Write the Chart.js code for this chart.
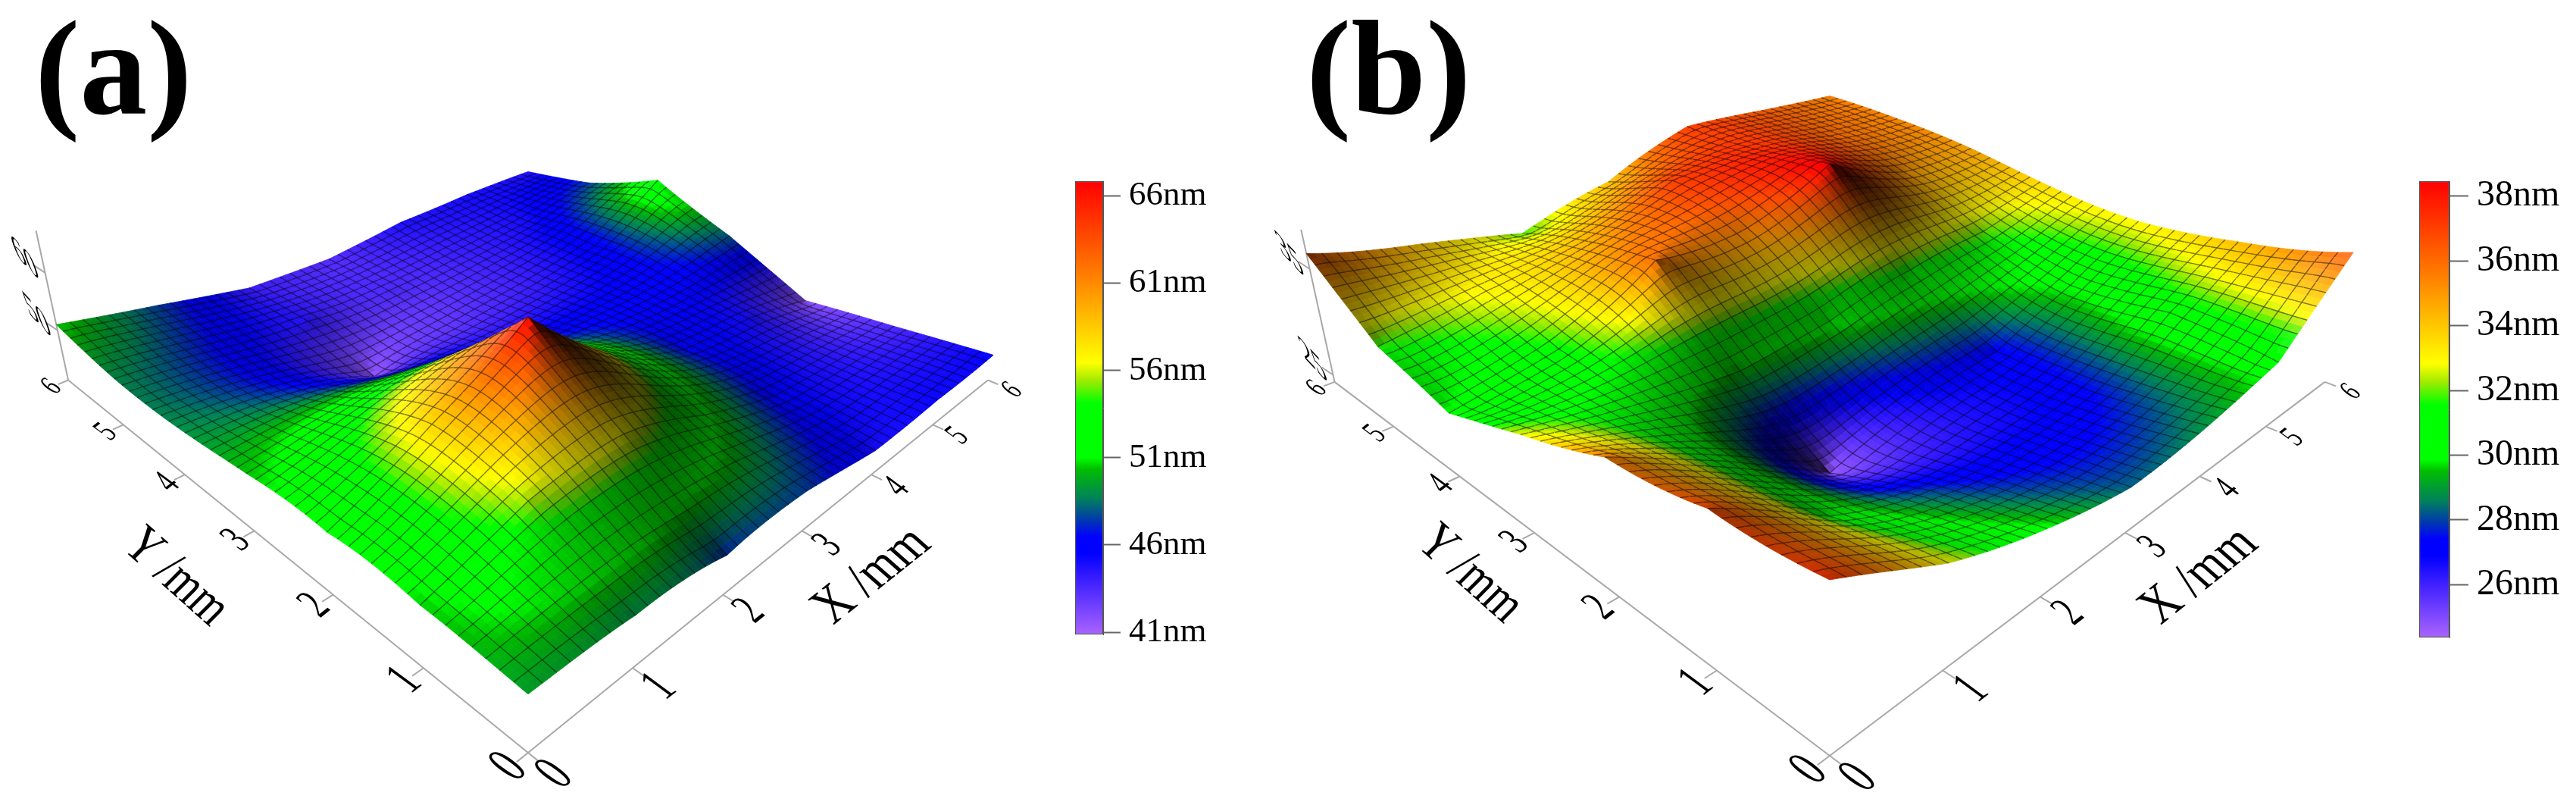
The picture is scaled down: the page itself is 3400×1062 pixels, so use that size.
<!DOCTYPE html>
<html>
<head>
<meta charset="utf-8">
<title>Thickness maps</title>
<style>
  html, body { margin: 0; padding: 0; background: #fff; }
  #wrap { position: relative; width: 3400px; height: 1062px; overflow: hidden; }
  canvas { position: absolute; }
</style>
<script src="https://cdn.jsdelivr.net/npm/chart.js@4/dist/chart.umd.js"></script>
</head>
<body>
<div id="wrap">
  <canvas id="main" width="3400" height="1062" style="left:0;top:0"></canvas>
  <canvas id="barA" width="210" height="658" style="left:1419px;top:209px"></canvas>
  <canvas id="barB" width="210" height="662" style="left:3193px;top:209px"></canvas>
</div>
<script>
// heights in nm read at each 1 mm node, rows are Y = 0..6, columns X = 0..6
const heightsA = [
  [49.6, 49.0, 47.2, 47.5, 45.0, 45.3, 45.5],
  [50.5, 55.5, 56.5, 51.0, 46.0, 44.5, 43.5],
  [50.8, 58.0, 66.5, 53.5, 46.5, 45.0, 41.5],
  [50.3, 52.5, 52.5, 47.0, 46.0, 46.0, 48.0],
  [49.0, 47.0, 41.5, 43.0, 44.0, 46.0, 53.5],
  [49.0, 46.5, 44.5, 43.5, 44.0, 45.0, 47.5],
  [51.0, 47.5, 44.0, 43.3, 44.8, 45.0, 44.6]
];
const heightsB = [
  [37.3, 32.8, 30.0, 28.3, 28.9, 30.3, 36.5],
  [36.8, 31.0, 28.0, 27.0, 27.5, 31.0, 34.2],
  [35.6, 30.5, 24.6, 26.7, 27.3, 30.0, 33.0],
  [32.7, 30.8, 29.5, 30.2, 31.5, 32.0, 33.5],
  [30.0, 31.5, 35.8, 35.5, 38.6, 35.0, 34.7],
  [31.7, 33.0, 34.3, 37.0, 37.3, 36.0, 35.3],
  [36.4, 34.0, 31.8, 34.0, 37.0, 36.2, 35.4]
];
const floorTicks = [0, 1, 2, 3, 4, 5, 6];
const zTicksA = [50, 60];
const zTicksB = [25, 35];
const barTicksA = [41, 46, 51, 56, 61, 66];
const barTicksB = [26, 28, 30, 32, 34, 36, 38];
const barRangeA = [40.87, 66.85];
const barRangeB = [24.37, 38.46];

// colour bar stops, 0 = top of bar
const paletteStops = [0, 0.21, 0.40, 0.44, 0.49, 0.61, 0.635, 0.70, 0.745, 0.785, 0.82, 0.88, 1];
const paletteColors = [
  [255, 0, 0], [255, 128, 0], [255, 255, 0], [160, 235, 0], [0, 255, 0], [0, 255, 0], [0, 190, 0],
  [0, 130, 90], [0, 60, 170], [0, 0, 255], [0, 0, 255], [60, 30, 255], [170, 100, 255]
];

const SERIF = '"Liberation Serif", "Times New Roman", serif';
const FINE = 96;      // painted patches per side
const MESH_EVERY = 2; // a mesh line every second patch

const camA = { ox: 697, oy: 993, ax: 148.8, ay: 120.5, w: 0.0785, c: 12.2, wz: -0.00368, z0: 40.85, zTop: 67,
  xTitle: [1151, 760], yTitle: [232, 762] };
const camB = { ox: 2415, oy: 997, ax: 161, ay: 121.5, w: 0.0797, c: 22.9, wz: -0.0066, z0: 24.3, zTop: 38.5,
  xTitle: [2903, 760], yTitle: [1940, 758] };

function project(cam, X, Y, z) {
  const Z = z - cam.z0;
  const S = X + Y;
  const D = 1 + cam.w * S;
  const Dz = D + cam.wz * Z;
  return { x: cam.ox + cam.ax * (X - Y) / Dz, y: (cam.oy * D - cam.ay * S - cam.c * Z) / Dz };
}

function paletteColor(range, z) {
  const f = Math.min(1, Math.max(0, (range[1] - z) / (range[1] - range[0])));
  let i = 0;
  while (i < paletteStops.length - 2 && f > paletteStops[i + 1]) i++;
  const t = (f - paletteStops[i]) / (paletteStops[i + 1] - paletteStops[i]);
  return paletteColors[i].map((c, k) => c + (paletteColors[i + 1][k] - c) * t);
}

// the surface passes exactly through the read nodes; between them it is drawn
// with a cone kernel so each node keeps its cusp like the original plot
function solveLinear(A, b) {
  const n = b.length;
  for (let i = 0; i < n; i++) {
    let piv = i;
    for (let r = i + 1; r < n; r++) if (Math.abs(A[r][i]) > Math.abs(A[piv][i])) piv = r;
    [A[i], A[piv]] = [A[piv], A[i]];
    [b[i], b[piv]] = [b[piv], b[i]];
    for (let r = i + 1; r < n; r++) {
      const f = A[r][i] / A[i][i];
      for (let c = i; c < n; c++) A[r][c] -= f * A[i][c];
      b[r] -= f * b[i];
    }
  }
  const x = new Array(n);
  for (let i = n - 1; i >= 0; i--) {
    let s = b[i];
    for (let c = i + 1; c < n; c++) s -= A[i][c] * x[c];
    x[i] = s / A[i][i];
  }
  return x;
}

function buildSurface(heights) {
  const nodes = [], vals = [];
  heights.forEach((row, iy) => row.forEach((z, ix) => { nodes.push([ix, iy]); vals.push(z); }));
  const n = nodes.length;
  const mean = vals.reduce((a, v) => a + v, 0) / n;
  const A = nodes.map(p => nodes.map(q => Math.hypot(p[0] - q[0], p[1] - q[1])));
  const w = solveLinear(A, vals.map(v => v - mean));
  const step = 6 / FINE;
  const grid = [];
  for (let ix = 0; ix <= FINE; ix++) {
    grid.push([]);
    for (let iy = 0; iy <= FINE; iy++) {
      let z = mean;
      for (let k = 0; k < n; k++) z += w[k] * Math.hypot(ix * step - nodes[k][0], iy * step - nodes[k][1]);
      grid[ix].push(z);
    }
  }
  return grid;
}

const panels = [
  { cam: camA, heights: heightsA, range: barRangeA, zTicks: zTicksA, title: '(a)', titleX: 46 },
  { cam: camB, heights: heightsB, range: barRangeB, zTicks: zTicksB, title: '(b)', titleX: 1724 }
];
panels.forEach(p => { p.grid = buildSurface(p.heights); });

function paintSurface(chart, p) {
  const ctx = chart.ctx;
  const sx = chart.scales.x, sy = chart.scales.y;
  const step = 6 / FINE;
  const span = p.range[1] - p.range[0];
  const px = [];
  for (let ix = 0; ix <= FINE; ix++) {
    px.push([]);
    for (let iy = 0; iy <= FINE; iy++) {
      const q = project(p.cam, ix * step, iy * step, p.grid[ix][iy]);
      px[ix].push([sx.getPixelForValue(q.x), sy.getPixelForValue(q.y)]);
    }
  }
  ctx.save();
  ctx.lineJoin = 'round';
  for (let ix = FINE - 1; ix >= 0; ix--) {
    for (let iy = FINE - 1; iy >= 0; iy--) {
      const g = p.grid;
      const z = (g[ix][iy] + g[ix + 1][iy] + g[ix][iy + 1] + g[ix + 1][iy + 1]) / 4;
      const dzdx = ((g[ix + 1][iy] + g[ix + 1][iy + 1]) - (g[ix][iy] + g[ix][iy + 1])) / (2 * step);
      const dzdy = ((g[ix][iy + 1] + g[ix + 1][iy + 1]) - (g[ix][iy] + g[ix + 1][iy])) / (2 * step);
      const l = (dzdy - dzdx) / span;
      let rgb = paletteColor(p.range, z);
      if (l > 0) {
        const dark = 1 - Math.min(0.82, l * 1.25);
        rgb = rgb.map(c => c * dark);
      } else {
        const glow = Math.min(0.3, Math.max(0, -l - 0.35) * 0.8);
        rgb = rgb.map(c => c + (255 - c) * glow);
      }
      const col = `rgb(${rgb[0] | 0},${rgb[1] | 0},${rgb[2] | 0})`;
      const a = px[ix][iy], b = px[ix + 1][iy], c = px[ix + 1][iy + 1], d = px[ix][iy + 1];
      ctx.beginPath();
      ctx.moveTo(a[0], a[1]); ctx.lineTo(b[0], b[1]); ctx.lineTo(c[0], c[1]); ctx.lineTo(d[0], d[1]);
      ctx.closePath();
      ctx.fillStyle = col;
      ctx.strokeStyle = col;
      ctx.lineWidth = 0.8;
      ctx.fill();
      ctx.stroke();
      ctx.strokeStyle = 'rgba(0,0,0,0.5)';
      ctx.lineWidth = 1.4;
      // far edges only, nearer patches painted later do not touch them
      if ((iy + 1) % MESH_EVERY === 0 && iy + 1 < FINE) {
        ctx.beginPath(); ctx.moveTo(d[0], d[1]); ctx.lineTo(c[0], c[1]); ctx.stroke();
      }
      if ((ix + 1) % MESH_EVERY === 0 && ix + 1 < FINE) {
        ctx.beginPath(); ctx.moveTo(b[0], b[1]); ctx.lineTo(c[0], c[1]); ctx.stroke();
      }
    }
  }
  ctx.restore();
}

function slantText(ctx, text, x, y, m, font) {
  ctx.save();
  ctx.transform(m[0], m[1], m[2], m[3], x, y);
  ctx.font = font;
  ctx.fillStyle = '#000';
  ctx.textAlign = 'center';
  ctx.textBaseline = 'middle';
  ctx.fillText(text, 0, 0);
  ctx.restore();
}

function paintLabels(chart, p) {
  const ctx = chart.ctx;
  const sx = chart.scales.x, sy = chart.scales.y;
  const cam = p.cam;
  const toPx = q => [sx.getPixelForValue(q.x), sy.getPixelForValue(q.y)];
  const digitFont = `54px ${SERIF}`;
  floorTicks.forEach(t => {
    const s = Math.max(0.55, 1 - cam.w * t);
    const m = [0.7 * s, -0.55 * s, 1.15 * s, 0.85 * s];
    const qx = toPx(project(cam, t, -0.24, cam.z0));
    slantText(ctx, String(t), qx[0], qx[1], m, digitFont);
    const qy = toPx(project(cam, -0.16, t, cam.z0));
    slantText(ctx, String(t), qy[0], qy[1], m, digitFont);
  });
  p.zTicks.forEach(v => {
    const q = toPx(project(cam, 0, 6, v));
    slantText(ctx, String(v), q[0] - 26, q[1] - 18, [0.66, 0.7, 0.36, 1.0], `50px ${SERIF}`);
  });
  slantText(ctx, 'X /mm', cam.xTitle[0], cam.xTitle[1], [0.78, -0.62, 0.92, 0.81], `60px ${SERIF}`);
  slantText(ctx, 'Y /mm', cam.yTitle[0], cam.yTitle[1], [0.7, 0.62, -0.85, 0.85], `60px ${SERIF}`);
  ctx.save();
  ctx.font = `bold 178px ${SERIF}`;
  ctx.fillStyle = '#000';
  ctx.textAlign = 'left';
  ctx.textBaseline = 'alphabetic';
  ctx.fillText(p.title, p.titleX, 150);
  ctx.restore();
}

const surfacePlugin = {
  id: 'surfacePlugin',
  afterDatasetsDraw(chart) {
    panels.forEach(p => {
      paintSurface(chart, p);
      paintLabels(chart, p);
    });
  }
};

// axis frame of one panel as plain line datasets
function axisDatasets(p) {
  const cam = p.cam;
  const style = { showLine: true, pointRadius: 0, borderColor: '#a8a8a8', borderWidth: 2, tension: 0 };
  const out = [];
  out.push({ ...style, label: 'X axis', data: [project(cam, 0, 0, cam.z0), project(cam, 6, 0, cam.z0)] });
  out.push({ ...style, label: 'Y axis', data: [project(cam, 0, 0, cam.z0), project(cam, 0, 6, cam.z0)] });
  out.push({ ...style, label: 'Z axis', data: [project(cam, 0, 6, cam.z0), project(cam, 0, 6, cam.zTop)] });
  floorTicks.forEach(t => {
    out.push({ ...style, label: 'X tick', data: [project(cam, t, 0, cam.z0), project(cam, t, -0.1, cam.z0)] });
    out.push({ ...style, label: 'Y tick', data: [project(cam, 0, t, cam.z0), project(cam, -0.1, t, cam.z0)] });
  });
  p.zTicks.forEach(v => {
    const q = project(cam, 0, 6, v);
    out.push({ ...style, label: 'Z tick', data: [q, { x: q.x - 15, y: q.y - 10 }] });
  });
  return out;
}

// the read nodes themselves, the plugin paints the mesh between them
function nodeDataset(p) {
  const data = [];
  p.heights.forEach((row, iy) => row.forEach((z, ix) => data.push(project(p.cam, ix, iy, z))));
  return { label: p.title, data, pointRadius: 0, showLine: false };
}

new Chart(document.getElementById('main').getContext('2d'), {
  type: 'scatter',
  data: {
    datasets: panels.flatMap(p => [nodeDataset(p), ...axisDatasets(p)])
  },
  options: {
    responsive: false,
    animation: false,
    layout: { padding: 0 },
    plugins: { legend: { display: false }, tooltip: { enabled: false } },
    scales: {
      x: { type: 'linear', min: 0, max: 3400, display: false },
      y: { type: 'linear', min: 0, max: 1062, reverse: true, display: false }
    }
  },
  plugins: [surfacePlugin]
});

function makeColorBar(id, range, ticks, barWidth, fontSize, tickLength) {
  new Chart(document.getElementById(id).getContext('2d'), {
    type: 'bar',
    data: {
      labels: ['nm'],
      datasets: [{
        data: [[range[0], range[1]]],
        barPercentage: 1,
        categoryPercentage: 1,
        borderWidth: 1.5,
        borderColor: '#555',
        borderSkipped: false,
        backgroundColor(ctx) {
          const area = ctx.chart.chartArea;
          if (!area) return '#000';
          const g = ctx.chart.ctx.createLinearGradient(0, area.top, 0, area.bottom);
          paletteStops.forEach((s, i) => {
            const c = paletteColors[i];
            g.addColorStop(s, `rgb(${c[0]},${c[1]},${c[2]})`);
          });
          return g;
        }
      }]
    },
    options: {
      responsive: false,
      animation: false,
      layout: { padding: { top: 30, bottom: 30 } },
      plugins: { legend: { display: false }, tooltip: { enabled: false } },
      scales: {
        x: { display: false },
        y: {
          position: 'right',
          min: range[0],
          max: range[1],
          afterBuildTicks(scale) { scale.ticks = ticks.map(v => ({ value: v })); },
          afterFit(scale) { scale.width = 210 - barWidth; scale.paddingTop = 0; scale.paddingBottom = 0; },
          grid: { drawOnChartArea: false, tickLength, tickColor: '#666', tickWidth: 2 },
          border: { color: '#555', width: 1 },
          ticks: {
            autoSkip: false,
            padding: 11,
            color: '#000',
            font: { family: SERIF, size: fontSize },
            callback: v => v + 'nm'
          }
        }
      }
    }
  });
}

makeColorBar('barA', barRangeA, barTicksA, 37, 45, 23);
makeColorBar('barB', barRangeB, barTicksB, 40, 48, 25);
</script>
</body>
</html>
